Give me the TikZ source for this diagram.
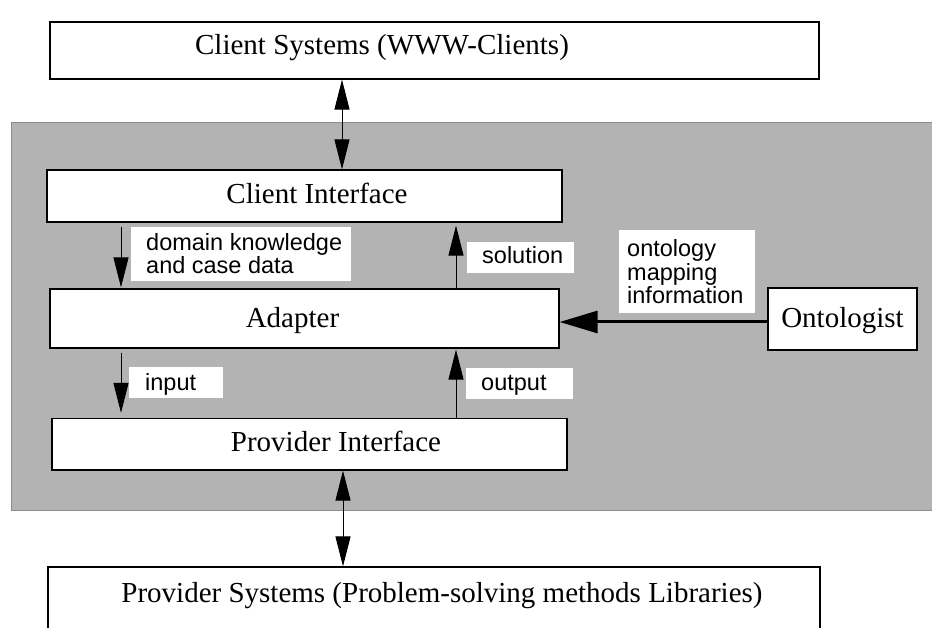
\documentclass[tikz,border=0pt]{standalone}
\usepackage{fontspec}
\setmainfont{Liberation Serif}
\newfontfamily\sansf{Liberation Sans}
\usetikzlibrary{arrows.meta}
\definecolor{panel}{HTML}{B3B3B3}
\definecolor{paneledge}{HTML}{8C8C8C}
\tikzset{
  box/.style={draw=black, line width=1.2pt, fill=white, inner sep=0pt},
  boxtext/.style={font=\fontsize{29}{34}\selectfont, inner sep=0pt, anchor=base},
  tag/.style={fill=white, draw=none, inner sep=0pt},
  tagtext/.style={font=\sansf\fontsize{23.5}{23.5}\selectfont, inner sep=0pt, align=left, anchor=base west},
  flow/.style={line width=1pt, -{Triangle[length=30pt,width=15pt]}},
  twoway/.style={line width=1pt, {Triangle[length=30pt,width=15pt]}-{Triangle[length=30pt,width=15pt]}},
  heavy/.style={line width=3pt, -{Triangle[length=38pt,width=22pt]}}
}
\begin{document}
\begin{tikzpicture}[x=1pt,y=-1pt]
\useasboundingbox (0,0) rectangle (932,628);
\clip (0,0) rectangle (932,628);
\fill[white] (0,0) rectangle (932,628);
% shaded panel
\filldraw[fill=panel, draw=paneledge, line width=1pt] (11,122.5) rectangle (945,510);

% main boxes
\node[box, minimum width=769pt, minimum height=57pt] (cs) at (434.5,50.5) {};
\node[boxtext] (cstext) at (382,55) {Client Systems (WWW-Clients)};
\node[box, minimum width=515pt, minimum height=52pt] (ci) at (304.5,196) {};
\node[boxtext] (citext) at (317,204) {Client Interface};
\node[box, minimum width=509pt, minimum height=59pt] (ad) at (304.5,318.5) {};
\node[boxtext] (adtext) at (292.5,328) {Adapter};
\node[box, minimum width=515pt, minimum height=51.5pt] (pi) at (309.5,444.25) {};
\node[boxtext] (pitext) at (336,451) {Provider Interface};
\node[box, minimum width=772pt, minimum height=84pt] (ps) at (434,609) {};
\node[boxtext] (pstext) at (442,602) {Provider Systems (Problem-solving methods Libraries)};
\node[box, minimum width=149pt, minimum height=62pt] (on) at (842.5,319) {};
\node[boxtext] (ontext) at (842.5,328) {Ontologist};

% white label boxes
\node[tag, minimum width=220pt, minimum height=54pt] (dk) at (241,254) {};
\node[tagtext] (dktext) at (146,274) {domain knowledge\\and case data};
\node[tag, minimum width=107pt, minimum height=31pt] (sol) at (520.5,257.5) {};
\node[tagtext] (soltext) at (482,264) {solution};
\node[tag, minimum width=136pt, minimum height=83pt] (ont) at (687,271.5) {};
\node[tagtext] (onttext) at (627,304) {ontology\\mapping\\information};
\node[tag, minimum width=94pt, minimum height=31pt] (inp) at (176,382.5) {};
\node[tagtext] (inptext) at (145,391) {input};
\node[tag, minimum width=107pt, minimum height=31pt] (outp) at (519.5,383.5) {};
\node[tagtext] (outptext) at (481,390) {output};

% connectors
\draw[twoway] (342,0 |- cs.south) -- (342,0 |- ci.north);
\draw[flow, shorten <=4pt, shorten >=1pt] (121,0 |- ci.south) -- (121,0 |- ad.north);
\draw[flow, shorten >=3pt] (456,0 |- ad.north) -- (456,0 |- ci.south);
\draw[flow, shorten <=4pt, shorten >=5pt] (121,0 |- ad.south) -- (121,0 |- pi.north);
\draw[flow, shorten >=1pt] (456,0 |- pi.north) -- (456,0 |- ad.south);
\draw[heavy] ([yshift=-3pt]on.west) -- ([yshift=-3pt]on.west -| ad.east);
\draw[twoway] (343,0 |- pi.south) -- (343,0 |- ps.north);
\end{tikzpicture}
\end{document}
